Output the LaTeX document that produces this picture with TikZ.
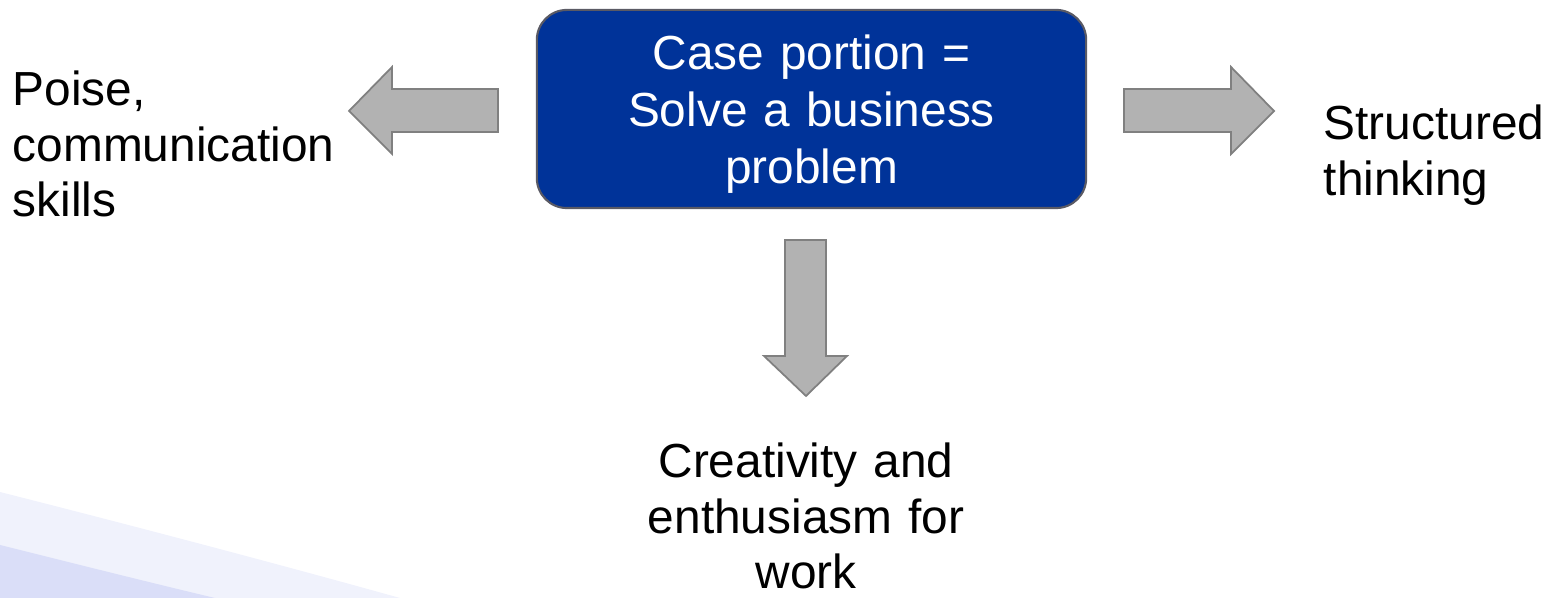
\documentclass[tikz,border=0pt]{standalone}
\usepackage{fontspec}
\setmainfont{Liberation Sans}
\definecolor{casebox}{RGB}{0,51,153}
\definecolor{caseline}{RGB}{90,90,100}
\definecolor{arrowfill}{RGB}{178,178,178}
\definecolor{arrowline}{RGB}{128,128,128}
\definecolor{swooshA}{RGB}{240,242,252}
\definecolor{swooshB}{RGB}{218,222,248}

\begin{document}
\begin{tikzpicture}[x=0.01cm,y=-0.01cm,
  every node/.style={inner sep=0pt,font=\fontsize{13.6}{15.7}\selectfont},
  blockarrow/.style={fill=arrowfill,draw=arrowline,line width=0.5pt,line join=miter}]
  \useasboundingbox (0,0) rectangle (1549,598);

  % faint swoosh in the corner
  \fill[swooshA] (0,492) .. controls (150,530) and (300,570) .. (400,598) -- (0,598) -- cycle;
  \fill[swooshB] (0,545) .. controls (80,565) and (160,585) .. (215,598) -- (0,598) -- cycle;

  \node[draw=caseline, fill=casebox, rounded corners=0.3cm, line width=0.6pt,
        minimum width=5.49cm, minimum height=1.98cm] (problem) at (811.5,109) {};
  \node[anchor=base, text=white, text width=5cm, align=center,
        font=\fontsize{13.6}{16.2}\selectfont] (problemtext) at (811.5,70)
        {Case portion =\\Solve a business\\problem};

  \node[anchor=base west, text width=3.4cm, align=left] (poise) at (12,106) {Poise,\\communication\\skills};
  \node[anchor=base west, text width=2.6cm, align=left] (structured) at (1323,140) {Structured\\thinking};
  \node[anchor=base, text width=4cm, align=center] (creativity) at (806,478) {Creativity and\\enthusiasm for\\work};

  \draw[blockarrow] (498,89) -- (392,89) -- (392,67) -- (349,111) -- (392,154) -- (392,132) -- (498,132) -- cycle;
  \draw[blockarrow] (1124,89) -- (1231,89) -- (1231,67) -- (1274,111) -- (1231,154) -- (1231,132) -- (1124,132) -- cycle;
  \draw[blockarrow] (785,240) -- (826,240) -- (826,356) -- (847,356) -- (806,396) -- (764,356) -- (785,356) -- cycle;
\end{tikzpicture}
\end{document}
